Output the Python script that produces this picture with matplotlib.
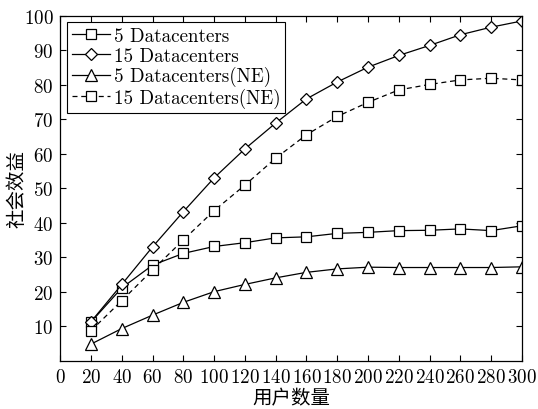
import numpy as np
import matplotlib
matplotlib.use("Agg")
import matplotlib.pyplot as plt

plt.rcParams['font.family'] = ['cmr10', 'Noto Sans CJK SC']
plt.rcParams['axes.formatter.use_mathtext'] = True
plt.rcParams['font.size'] = 13.7

# data
users = [20, 40, 60, 80, 100, 120, 140, 160, 180, 200, 220, 240, 260, 280, 300]
dc5 = [11.2, 21.1, 27.7, 31.1, 33.1, 34.2, 35.6, 35.9, 36.9, 37.2, 37.7, 37.8, 38.2, 37.7, 39.1]
dc15 = [11.3, 22.1, 33.0, 43.2, 53.0, 61.4, 68.9, 75.9, 80.8, 85.1, 88.5, 91.4, 94.5, 96.7, 98.5]
dc5_ne = [4.8, 9.3, 13.2, 16.9, 20.0, 22.1, 24.0, 25.6, 26.6, 27.1, 27.0, 27.0, 27.0, 27.0, 27.2]
dc15_ne = [8.7, 17.4, 26.3, 35.0, 43.5, 50.9, 58.7, 65.5, 70.8, 74.9, 78.5, 80.1, 81.4, 81.9, 81.4]

labels = ["5 Datacenters", "15 Datacenters", "5 Datacenters(NE)", "15 Datacenters(NE)"]
xticks = list(range(0, 301, 20))
yticks = list(range(10, 101, 10))

fig = plt.figure(figsize=(5.38, 4.10), dpi=100)
ax = fig.add_axes([0.112, 0.118, 0.858, 0.841])

mk = dict(color="black", markerfacecolor="white", markeredgecolor="black",
          linewidth=0.9, markeredgewidth=0.9)
ax.plot(users, dc5, "-s", markersize=6.6, label=labels[0], **mk)
ax.plot(users, dc15, "-D", markersize=6.3, label=labels[1], **mk)
ax.plot(users, dc5_ne, "-^", markersize=8.5, label=labels[2], **mk)
ax.plot(users, dc15_ne, "--s", markersize=6.6, label=labels[3], dashes=(4, 3), **mk)

ax.set_xlim(0, 300)
ax.set_ylim(0, 100)
ax.set_xticks(xticks)
ax.set_yticks(yticks)
ax.tick_params(direction="in", top=True, right=True, length=4, width=0.8, pad=5)
for s in ax.spines.values():
    s.set_linewidth(0.9)

ax.set_xlabel("用户数量", fontsize=14, labelpad=3)
ax.set_ylabel("社会效益", fontsize=14, labelpad=-2)

leg = ax.legend(loc="upper left", fancybox=False, edgecolor="black",
                framealpha=1, borderpad=0.25, labelspacing=0.08,
                handlelength=2.0, handletextpad=0.2, borderaxespad=0.35)
leg.get_frame().set_linewidth(0.8)

fig.savefig("out.png", dpi=100)
